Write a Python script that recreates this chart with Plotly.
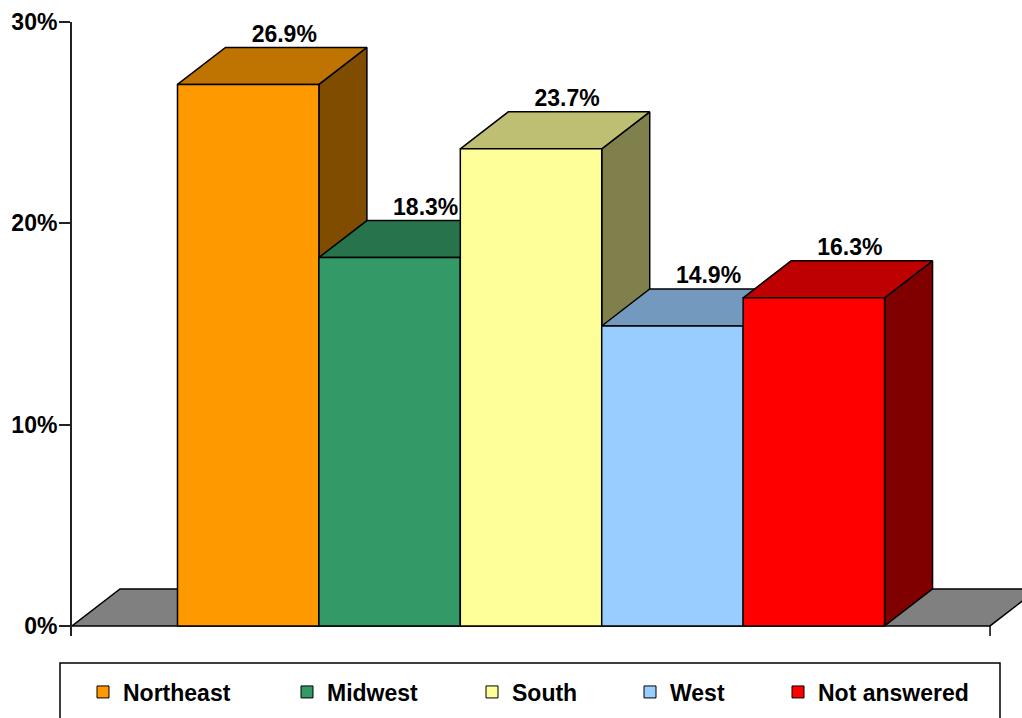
import plotly.graph_objects as go

# ---------------- data ----------------
categories = ["Northeast", "Midwest", "South", "West", "Not answered"]
values = [26.9, 18.3, 23.7, 14.9, 16.3]
value_labels = ["26.9%", "18.3%", "23.7%", "14.9%", "16.3%"]
tick_values = [0, 10, 20, 30]
tick_labels = ["0%", "10%", "20%", "30%"]

# ---------------- style ----------------
front_colors = ["#FF9900", "#339966", "#FFFF99", "#99CCFF", "#FF0000"]
FLOOR_COLOR = "#808080"
EDGE = dict(color="black", width=1.5)
FONT = dict(family="Liberation Sans, Arial, sans-serif", size=23, color="black", weight="bold")

# 3D depth offsets in axis units
DX = 48 / 141.4
DY = 37 / 20.133
HALF = 0.5
X_LEFT = -1.246
X_FLOOR_RIGHT = 5.246
X_RANGE_RIGHT = 5.472
Y_RANGE = [-0.5, 30]
LABEL_DX = 0.255

W, H = 1022, 718
M_L, M_R, M_T, M_B = 72, 0, 22, 82
PLOT_W = W - M_L - M_R
PLOT_H = H - M_T - M_B


def shade(hexcol, f):
    h = hexcol.lstrip("#")
    r, g, b = (int(h[k:k + 2], 16) for k in (0, 2, 4))
    return "rgb(%d,%d,%d)" % (round(r * f), round(g * f), round(b * f))


def poly(xs, ys, color):
    return go.Scatter(x=xs, y=ys, mode="lines", fill="toself", fillcolor=color,
                      line=EDGE, showlegend=False, hoverinfo="skip")


fig = go.Figure()

# floor
fig.add_trace(poly([X_LEFT, X_LEFT + DX, X_FLOOR_RIGHT + DX, X_FLOOR_RIGHT, X_LEFT],
                   [0, DY, DY, 0, 0], FLOOR_COLOR))

# bars (drawn left to right so later bars cover earlier side faces)
for i, (v, c) in enumerate(zip(values, front_colors)):
    xl, xr = i - HALF, i + HALF
    fig.add_trace(poly([xr, xr + DX, xr + DX, xr, xr], [0, DY, v + DY, v, 0], shade(c, 0.5)))
    fig.add_trace(poly([xl, xl + DX, xr + DX, xr, xl], [v, v + DY, v + DY, v, v], shade(c, 0.75)))
    fig.add_trace(poly([xl, xl, xr, xr, xl], [0, v, v, 0, 0], c))

# value labels
fig.add_trace(go.Scatter(
    x=[i + LABEL_DX for i in range(len(values))],
    y=[v + DY for v in values],
    text=value_labels, mode="text", textposition="top center",
    textfont=FONT, cliponaxis=False, showlegend=False, hoverinfo="skip"))

# legend entries, one legend per entry so spacing matches the reference
legend_square_px = [97, 301, 486, 644, 792]
SYMBOL_OFFSET = 14
LEGEND_Y = (M_T + PLOT_H - 692) / PLOT_H
legends = {}
for n, (name, c, px) in enumerate(zip(categories, front_colors, legend_square_px)):
    key = "legend" if n == 0 else "legend%d" % (n + 1)
    fig.add_trace(go.Scatter(x=[None], y=[None], mode="markers", name=name,
                             marker=dict(symbol="square", size=12, color=c,
                                         line=dict(color="black", width=1)),
                             legend=key, showlegend=True))
    legends[key] = dict(x=(px - SYMBOL_OFFSET - M_L) / PLOT_W, y=LEGEND_Y,
                        xanchor="left", yanchor="middle", orientation="h",
                        font=FONT, bgcolor="rgba(0,0,0,0)", borderwidth=0)

fig.update_layout(**legends)

# right-hand tick of the category axis
fig.add_shape(type="line", xref="x", yref="y", x0=X_FLOOR_RIGHT, x1=X_FLOOR_RIGHT,
              y0=0, y1=Y_RANGE[0], line=EDGE)
# legend box
fig.add_shape(type="rect", xref="paper", yref="paper",
              x0=(60 - M_L) / PLOT_W, x1=(1000 - M_L) / PLOT_W,
              y0=(M_T + PLOT_H - 663) / PLOT_H, y1=(M_T + PLOT_H - 740) / PLOT_H,
              line=dict(color="black", width=1.5), fillcolor="rgba(0,0,0,0)")

fig.update_xaxes(visible=False, range=[X_LEFT, X_RANGE_RIGHT], fixedrange=True)
fig.update_yaxes(range=Y_RANGE, tickvals=tick_values, ticktext=tick_labels,
                 showline=True, linecolor="#222", linewidth=2,
                 ticks="outside", ticklen=11, tickwidth=1.5, tickcolor="#222",
                 ticklabelstandoff=-3,
                 showgrid=False, zeroline=False, tickfont=FONT, fixedrange=True)

fig.update_layout(width=W, height=H,
                  margin=dict(l=M_L, r=M_R, t=M_T, b=M_B, autoexpand=False),
                  plot_bgcolor="white", paper_bgcolor="white",
                  font=FONT)

fig.write_html("out.html")
